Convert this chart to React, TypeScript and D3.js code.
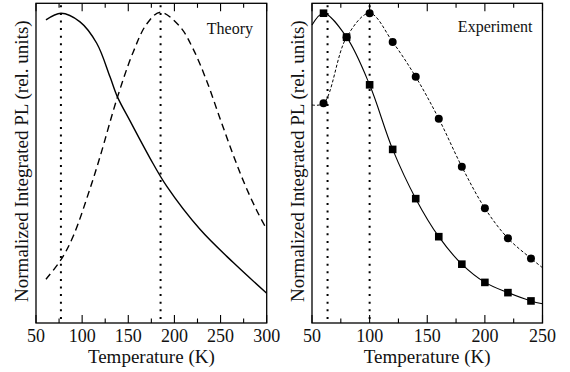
import React from 'react';
import * as d3 from 'd3';

// Theory panel (left)
const theorySolidT = [60.8, 77.1, 97.7, 115.8, 130.2, 138.1, 151.9, 173.5, 191.6, 227.7, 263.8, 300];
const theorySolidV = [0.948, 0.969, 0.942, 0.875, 0.770, 0.708, 0.632, 0.516, 0.428, 0.293, 0.189, 0.093];
const theoryDashT = [60.8, 77.1, 90.4, 108.5, 119.4, 138.1, 155.4, 169.9, 184.7, 206, 220.5, 235, 249.4, 263.8, 276.5, 289.2, 300];
const theoryDashV = [0.137, 0.198, 0.272, 0.420, 0.520, 0.705, 0.848, 0.935, 0.972, 0.927, 0.856, 0.757, 0.640, 0.525, 0.432, 0.352, 0.293];
const theoryMarkersT = [77, 185];

// Experiment panel (right)
const expT = [60, 80, 100, 120, 140, 160, 180, 200, 220, 240];
const expSquares = [0.969, 0.894, 0.745, 0.543, 0.389, 0.270, 0.184, 0.127, 0.095, 0.069];
const expCircles = [0.687, 0.894, 0.969, 0.879, 0.770, 0.639, 0.489, 0.359, 0.265, 0.202];
const expSquareEnds = [0.932, 0.06]; // fitted curve at T=50 and T=250
const expCircleEnds = [0.682, 0.173];
const expMarkersT = [63.5, 100];

const leftMajor = [50, 100, 150, 200, 250, 300];
const leftMinor = [75, 125, 175, 225, 275];
const rightMajor = [50, 100, 150, 200, 250];
const rightMinor = [75, 125, 175, 225];

const FONT = "'Liberation Serif', 'Times New Roman', Times, 'DejaVu Serif', serif";

export default function App() {
  const top = 3.3, bottom = 323;
  const xL = d3.scaleLinear().domain([50, 300]).range([36, 266.7]);
  const xR = d3.scaleLinear().domain([50, 250]).range([312, 542.5]);
  const y = d3.scaleLinear().domain([0, 1]).range([bottom, top]);
  const line = (xs: d3.ScaleLinear<number, number>) =>
    d3.line<[number, number]>().x(d => xs(d[0])).y(d => y(d[1])).curve(d3.curveCatmullRom.alpha(0.5));

  const zip = (a: number[], b: number[]) => a.map((t, i) => [t, b[i]] as [number, number]);

  const solidL = line(xL)(zip(theorySolidT, theorySolidV)) || '';
  const dashL = line(xL)(zip(theoryDashT, theoryDashV)) || '';
  const sqPts: [number, number][] = [[50, expSquareEnds[0]], ...zip(expT, expSquares), [250, expSquareEnds[1]]];
  const ciPts: [number, number][] = [[50, expCircleEnds[0]], ...zip(expT, expCircles), [250, expCircleEnds[1]]];
  const solidR = line(xR)(sqPts) || '';
  const dashR = line(xR)(ciPts) || '';

  const txt = (size: number) => ({ fontFamily: FONT, fontSize: size + 'px' });

  const panel = (xs: d3.ScaleLinear<number, number>, major: number[], minor: number[], key: string) => {
    const [x0, x1] = xs.range();
    return (
      <g key={key}>
        <rect x={x0} y={top} width={x1 - x0} height={bottom - top} fill="none" stroke="#000" strokeWidth={1.3} />
        {major.map(t => (
          <g key={'M' + t}>
            <line x1={xs(t)} x2={xs(t)} y1={bottom} y2={bottom - 8} stroke="#000" strokeWidth={1.1} />
            <line x1={xs(t)} x2={xs(t)} y1={top} y2={top + 8} stroke="#000" strokeWidth={1.1} />
            <text x={xs(t)} y={342} textAnchor="middle" style={txt(18)} fill="#111">{t}</text>
          </g>
        ))}
        {minor.map(t => (
          <g key={'m' + t}>
            <line x1={xs(t)} x2={xs(t)} y1={bottom} y2={bottom - 4.5} stroke="#000" strokeWidth={1.1} />
            <line x1={xs(t)} x2={xs(t)} y1={top} y2={top + 4.5} stroke="#000" strokeWidth={1.1} />
          </g>
        ))}
        <text x={(x0 + x1) / 2} y={363} textAnchor="middle" style={txt(19)} fill="#111">Temperature (K)</text>
        <text transform={`translate(${x0 - 8},${(top + bottom) / 2 - 2}) rotate(-90)`} textAnchor="middle" style={txt(19)} fill="#111">
          Normalized Integrated PL (rel. units)
        </text>
      </g>
    );
  };

  return (
    <svg width={570} height={372} style={{ position: 'absolute', left: 0, top: 0, background: '#fff' }}>
      <rect width={570} height={372} fill="#fff" />
      {panel(xL, leftMajor, leftMinor, 'L')}
      {panel(xR, rightMajor, rightMinor, 'R')}

      {theoryMarkersT.map(t => (
        <line key={'dl' + t} x1={xL(t)} x2={xL(t)} y1={top + 2} y2={bottom} stroke="#000" strokeWidth={2} strokeDasharray="2 5.6" />
      ))}
      {expMarkersT.map(t => (
        <line key={'dr' + t} x1={xR(t)} x2={xR(t)} y1={top + 2} y2={bottom} stroke="#000" strokeWidth={2} strokeDasharray="2 5.6" />
      ))}

      <path d={solidL} fill="none" stroke="#000" strokeWidth={1.4} />
      <path d={dashL} fill="none" stroke="#000" strokeWidth={1.4} strokeDasharray="7 4.5" />
      <text x={253} y={34} textAnchor="end" style={txt(16)} fill="#111">Theory</text>

      <path d={solidR} fill="none" stroke="#000" strokeWidth={1.1} />
      <path d={dashR} fill="none" stroke="#000" strokeWidth={1} strokeDasharray="3 2" />
      {expT.map((t, i) => (
        <rect key={'s' + t} x={xR(t) - 3.8} y={y(expSquares[i]) - 3.8} width={7.6} height={7.6} fill="#000" />
      ))}
      {expT.map((t, i) => (
        <circle key={'c' + t} cx={xR(t)} cy={y(expCircles[i])} r={4} fill="#000" />
      ))}
      <text x={532.5} y={32} textAnchor="end" style={txt(16)} fill="#111">Experiment</text>
    </svg>
  );
}
